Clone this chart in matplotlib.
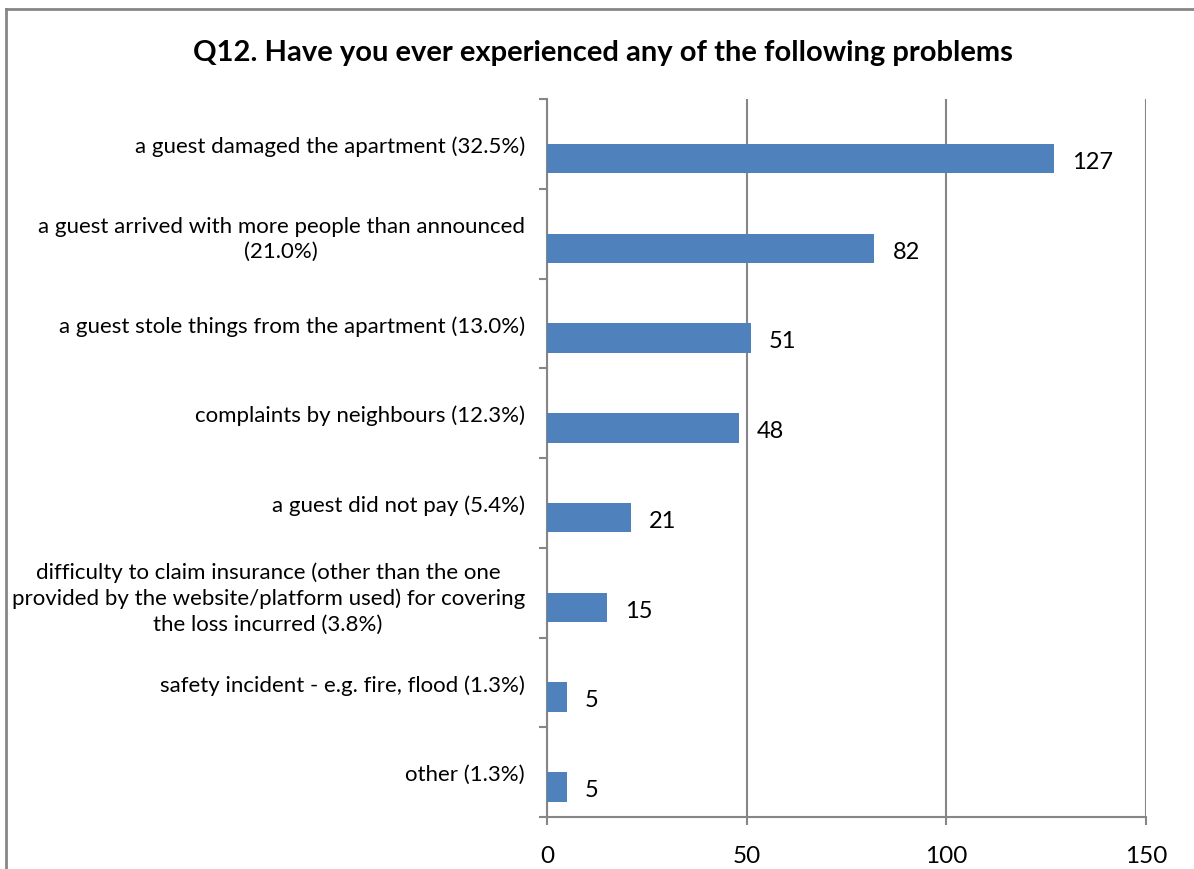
import matplotlib.pyplot as plt
from matplotlib.lines import Line2D
from matplotlib.ticker import FixedLocator
import numpy as np

plt.rcParams['font.family'] = ['Lato', 'DejaVu Sans']

TITLE = "Q12. Have you ever experienced any of the following problems"

categories = [
    "a guest damaged the apartment (32.5%)",
    "a guest arrived with more people than announced\n(21.0%)",
    "a guest stole things from the apartment (13.0%)",
    "complaints by neighbours (12.3%)",
    "a guest did not pay (5.4%)",
    "difficulty to claim insurance (other than the one\n"
    "provided by the website/platform used) for covering\n"
    "the loss incurred (3.8%)",
    "safety incident - e.g. fire, flood (1.3%)",
    "other (1.3%)",
]
counts = [127, 82, 51, 48, 21, 15, 5, 5]
x_ticks = [0, 50, 100, 150]

BAR = "#4F81BD"
AXIS = "#868686"

W, H = 1194, 870
fig = plt.figure(figsize=(W / 100, H / 100), dpi=100)
ax = fig.add_axes([547 / W, 1 - 818 / H, (1146 - 547) / W, (818 - 100) / H])

n = len(categories)
pos = np.arange(n)
# second (empty) series sits in the upper half of each slot, so the bars hang low
bar_h = 0.33
ax.barh(pos + bar_h / 2, counts, height=bar_h, color=BAR, zorder=3)

for y, v in zip(pos, counts):
    ax.text(v + 4.5, y + bar_h / 2 + 0.03, str(v), va="center", ha="left", fontsize=17)

ax.set_ylim(n - 0.5, -0.5)
ax.set_xlim(0, 150)

ax.set_yticks(pos)
ax.set_yticklabels(categories, fontsize=16, multialignment="center", linespacing=1.35)
ax.tick_params(axis="y", which="major", length=0, pad=16)
ax.yaxis.set_minor_locator(FixedLocator(np.arange(n + 1) - 0.5))
ax.tick_params(axis="y", which="minor", length=6, width=1.5, color=AXIS)

ax.set_xticks(x_ticks)
ax.tick_params(axis="x", length=6, width=1.5, color=AXIS, labelsize=17.5, pad=14)
ax.grid(axis="x", color=AXIS, linewidth=1.5, zorder=0)

for side in ("top", "right"):
    ax.spines[side].set_visible(False)
for side in ("left", "bottom"):
    ax.spines[side].set_color(AXIS)
    ax.spines[side].set_linewidth(1.5)

fig.text(0.505, 1 - 53 / H, TITLE, ha="center", va="center",
         fontsize=21, fontweight="bold")

# chart frame
fx0, fy0 = 6 / W, 1 - 10 / H
fig.add_artist(Line2D([fx0, fx0], [fy0, -0.1], color=AXIS, linewidth=2))
fig.add_artist(Line2D([fx0, 1.1], [fy0, fy0], color=AXIS, linewidth=2))

fig.savefig("out.png", dpi=100)
